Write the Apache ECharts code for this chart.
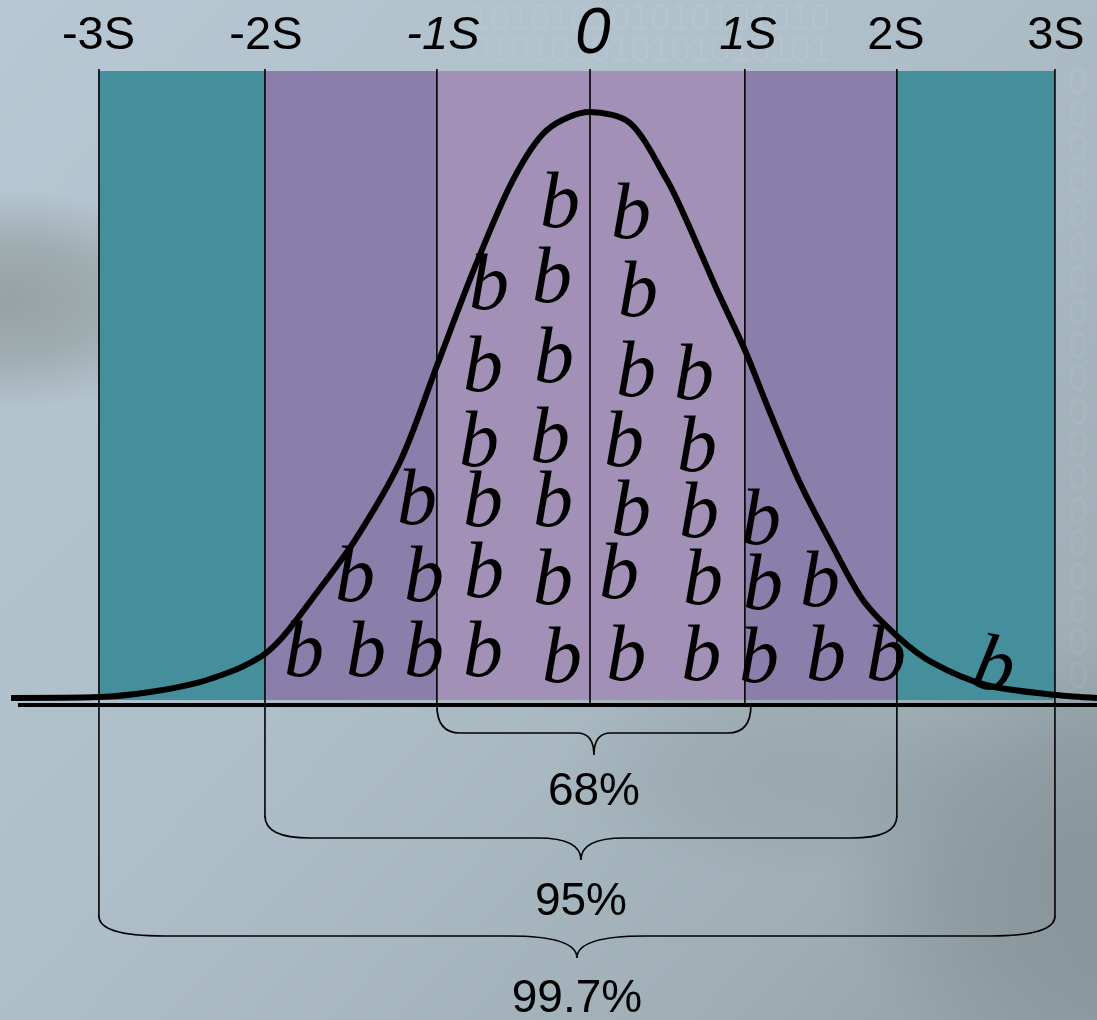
<!DOCTYPE html>
<html>
<head>
<meta charset="utf-8">
<script src="https://cdn.jsdelivr.net/npm/echarts@6/dist/echarts.min.js"></script>
<style>
  html, body { margin: 0; padding: 0; }
  #chart-panel { width: 1097px; height: 1020px; }
</style>
</head>
<body>
<div id="chart-panel"></div>
<script>
// band edges in S units
var bandEdges = [-3.0, -1.958, -0.879, 0.082, 1.054, 2.008, 3.0];
var tickLabels = ['-3S', '-2S', '-1S', '0', '1S', '2S', '3S'];
var tickLabelX = [-3.003, -1.952, -0.841, 0.100, 1.073, 2.002, 3.006];

// the bell curve (x in S, y as density)
var curveX = [-3.552, -3.0, -2.680, -2.366, -2.146, -2.052, -1.958, -1.864, -1.770, -1.676,
  -1.393, -1.105, -0.872, -0.640, -0.402, -0.188, 0.082, 0.333, 0.565, 0.678,
  0.879, 1.054, 1.205, 1.400, 1.601, 1.795, 2.015, 2.234, 2.567, 3.006, 3.264];
var curveY = [0.0014, 0.0020, 0.0054, 0.0122, 0.0204, 0.0252, 0.0313, 0.0408, 0.0531, 0.0667,
  0.1088, 0.1633, 0.2293, 0.2946, 0.3537, 0.3878, 0.4000, 0.3925, 0.3537, 0.3286,
  0.2789, 0.2381, 0.1973, 0.1476, 0.1054, 0.0680, 0.0429, 0.0252, 0.0102, 0.0034, 0.0014];

// the "b" marks (x, baseline y)
var bPoints = [
  [-0.107, 0.318], [0.339, 0.310],
  [-0.552, 0.262], [-0.157, 0.267], [0.383, 0.257],
  [-0.590, 0.206], [-0.144, 0.212], [0.370, 0.203], [0.734, 0.201],
  [-0.615, 0.155], [-0.169, 0.158], [0.295, 0.155], [0.753, 0.152],
  [-1.004, 0.116], [-0.590, 0.114], [-0.151, 0.114], [0.339, 0.108], [0.766, 0.107], [1.155, 0.102],
  [-1.393, 0.063], [-0.960, 0.063], [-0.584, 0.066], [-0.151, 0.061], [0.264, 0.065], [0.791, 0.061], [1.167, 0.058], [1.525, 0.060],
  [-1.713, 0.012], [-1.324, 0.012], [-0.960, 0.012], [-0.590, 0.012], [-0.094, 0.008], [0.310, 0.0095], [0.780, 0.0095], [1.142, 0.008], [1.563, 0.0095], [1.939, 0.0095],
  [2.580, 0.003]
];

// brackets under the axis
var braceLabels = ['68%', '95%', '99.7%'];
var braceFrom = [-0.879, -1.958, -3.0];
var braceTo = [1.092, 2.008, 3.0];

// layout (pixels below the band bottom)
var braceLayout = [
  { start: 6, flat: 33, tip: 55, r: 23, t: 17, text: 92 },
  { start: 117, flat: 138, tip: 160, r: 45, t: 43, text: 202 },
  { start: 217, flat: 236, tip: 258, r: 65, t: 68, text: 299 }
];
var lineDrop = [217, 117, 5, 5, 5, 117, 217];
var bandColors = ['#458e9b', '#8a7eaa', '#a390b6', '#a390b6', '#8a7eaa', '#458e9b'];
var BAND_TOP = 0.4279;
var LINE_TOP = 0.4293;

function bracePath(x1, x2, y0, y1, y2, r, t) {
  var xm = (x1 + x2) / 2;
  return 'M' + x1 + ' ' + (y0 - 1) +
    'Q' + x1 + ' ' + y1 + ' ' + (x1 + r) + ' ' + y1 +
    'L' + (xm - t) + ' ' + y1 +
    'Q' + xm + ' ' + y1 + ' ' + xm + ' ' + y2 +
    'Q' + xm + ' ' + y1 + ' ' + (xm + t) + ' ' + y1 +
    'L' + (x2 - r) + ' ' + y1 +
    'Q' + x2 + ' ' + y1 + ' ' + x2 + ' ' + (y0 - 1);
}

function renderBands(params, api) {
  var i = api.value(0);
  var p1 = api.coord([bandEdges[i], BAND_TOP]);
  var p2 = api.coord([bandEdges[i + 1], 0]);
  return {
    type: 'rect',
    shape: { x: p1[0], y: p1[1], width: p2[0] - p1[0], height: p2[1] - p1[1] },
    style: { fill: bandColors[i] }
  };
}

function renderFrame(params, api) {
  var children = [];
  var base = api.coord([0, 0])[1];
  var cs = params.coordSys;
  // vertical lines
  bandEdges.forEach(function (e, i) {
    var x = api.coord([e, 0])[0];
    children.push({
      type: 'line',
      shape: { x1: x, y1: api.coord([e, LINE_TOP])[1], x2: x, y2: base + lineDrop[i] },
      style: { stroke: '#000', lineWidth: 1.6 }
    });
  });
  // horizontal axis
  children.push({
    type: 'line',
    shape: { x1: 18, y1: base + 5, x2: cs.x + cs.width, y2: base + 5 },
    style: { stroke: '#000', lineWidth: 4 }
  });
  // braces and their labels
  braceLabels.forEach(function (txt, i) {
    var L = braceLayout[i];
    var x1 = api.coord([braceFrom[i], 0])[0];
    var x2 = api.coord([braceTo[i], 0])[0];
    children.push({
      type: 'path',
      shape: { pathData: bracePath(x1, x2, base + L.start, base + L.flat, base + L.tip, L.r, L.t) },
      style: { stroke: '#000', lineWidth: 1.7, fill: null }
    });
    children.push({
      type: 'text',
      style: {
        text: txt, x: (x1 + x2) / 2, y: base + L.text,
        fill: '#000', font: '46px "Liberation Sans", Arial, sans-serif',
        align: 'center', verticalAlign: 'middle'
      }
    });
  });
  return { type: 'group', children: children };
}

function blob(cx, cy, rx, ry, rgb, a) {
  return {
    type: 'circle', x: cx, y: cy, scaleX: rx / 100, scaleY: ry / 100,
    shape: { cx: 0, cy: 0, r: 100 },
    style: {
      fill: {
        type: 'radial', x: 0.5, y: 0.5, r: 0.5,
        colorStops: [
          { offset: 0, color: 'rgba(' + rgb + ',' + a + ')' },
          { offset: 0.5, color: 'rgba(' + rgb + ',' + (a * 0.7) + ')' },
          { offset: 1, color: 'rgba(' + rgb + ',0)' }
        ]
      }
    }
  };
}

var chart = echarts.init(document.getElementById('chart-panel'));

var option = {
  backgroundColor: {
    type: 'linear', x: 0, y: 0, x2: 1, y2: 1,
    colorStops: [
      { offset: 0, color: '#b7c7d3' },
      { offset: 0.45, color: '#afbfc9' },
      { offset: 0.8, color: '#a0afb6' },
      { offset: 1, color: '#909ea3' }
    ]
  },
  animation: false,
  graphic: [
    blob(10, 300, 190, 110, '140,150,148', 0.75),
    blob(1070, 860, 240, 220, '122,134,140', 0.5),
    blob(780, 770, 220, 110, '132,144,150', 0.3),
    {
      type: 'text', left: 470, top: 2,
      style: { text: '101010101010101010', font: '36px "Liberation Sans"', fill: 'rgba(255,255,255,0.05)' }
    },
    {
      type: 'text', left: 470, top: 34,
      style: { text: '010101010101010101', font: '36px "Liberation Sans"', fill: 'rgba(255,255,255,0.05)' }
    },
    {
      type: 'text', left: 1068, top: 66,
      style: { text: '0\n0\n0\n0\n0\n0\n0\n0\n0\n0\n0\n0\n0\n0\n0\n0\n0\n0\n0', lineHeight: 33, font: '36px "Liberation Sans"', fill: 'rgba(255,255,255,0.05)' }
    }
  ],
  grid: { left: 0, right: 0, top: 0, bottom: 0 },
  xAxis: { type: 'value', min: -3.621, max: 3.264, show: false },
  yAxis: { type: 'value', min: -0.2177, max: 0.4762, show: false },
  series: [
    {
      type: 'custom',
      renderItem: renderBands,
      data: [0, 1, 2, 3, 4, 5].map(function (i) { return [i]; }),
      encode: { x: -1, y: -1 },
      z: 1
    },
    {
      type: 'line',
      data: curveX.map(function (x, i) { return [x, curveY[i]]; }),
      smooth: 0.3,
      symbol: 'none',
      lineStyle: { color: '#000', width: 6 },
      z: 3
    },
    {
      type: 'custom',
      renderItem: renderFrame,
      data: [[0, 0]],
      z: 4
    },
    {
      type: 'scatter',
      data: bPoints.map(function (p, i) {
        return i === bPoints.length - 1 ? { value: p, label: { rotate: -12 } } : { value: p };
      }),
      symbolSize: 1,
      itemStyle: { color: 'rgba(0,0,0,0)', opacity: 1 },
      label: {
        show: true,
        formatter: 'b',
        position: 'inside',
        offset: [0, -27],
        color: '#000',
        textBorderWidth: 0,
        fontFamily: '"Liberation Serif", "Times New Roman", serif',
        fontStyle: 'italic',
        fontSize: 80
      },
      z: 5
    },
    {
      type: 'scatter',
      data: tickLabelX.map(function (x, i) {
        var big = tickLabels[i] === '0';
        var it = (i >= 2 && i <= 4);
        return {
          value: [x, 0.452],
          label: { fontSize: big ? 64 : 47, fontStyle: it ? 'italic' : 'normal' }
        };
      }),
      symbolSize: 1,
      itemStyle: { color: 'rgba(0,0,0,0)', opacity: 1 },
      label: {
        show: true,
        position: 'inside',
        color: '#000',
        textBorderWidth: 0,
        fontFamily: '"Liberation Sans", Arial, sans-serif',
        formatter: function (p) { return tickLabels[p.dataIndex]; }
      },
      z: 5
    }
  ]
};

chart.setOption(option);
</script>
</body>
</html>
